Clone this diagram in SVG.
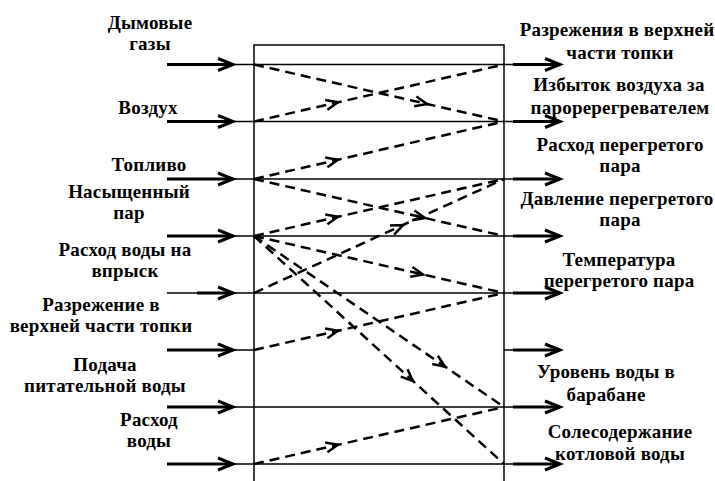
<svg xmlns="http://www.w3.org/2000/svg" width="715" height="481" viewBox="0 0 715 481">
<style>
.t{font-family:"Liberation Serif","Times New Roman",serif;font-weight:bold;font-size:19px;letter-spacing:0.2px;text-anchor:middle;fill:#000}
.thick{stroke:#000;stroke-width:3;fill:none}
.thin{stroke:#000;stroke-width:1.5;fill:none}
.dash{stroke:#000;stroke-width:2.5;fill:none;stroke-dasharray:10 6;marker-mid:url(#mid)}
</style>
<defs>
<marker id="arr" markerUnits="userSpaceOnUse" viewBox="-17 -8 19 16" refX="0" refY="0" markerWidth="19" markerHeight="16" orient="auto" overflow="visible">
<path d="M-15,-6 L0,0 L-15,6" fill="none" stroke="#000" stroke-width="3"/>
</marker>
<marker id="mid" markerUnits="userSpaceOnUse" viewBox="-15 -7 17 14" refX="0" refY="0" markerWidth="17" markerHeight="14" orient="auto" overflow="visible">
<path d="M-12,-5 L0,0 L-12,5" fill="none" stroke="#000" stroke-width="2.5"/>
</marker>
</defs>
<rect width="715" height="481" fill="#fff"/>

<g id="box">
<path class="thin" d="M254,481 V45 H504 V481"/>
<path class="thin" d="M233,64.5 H513 M233,121.5 H513 M233,179 H513 M233,236 H513 M233,293 H513 M233,350 H254 M504,350 H513 M233,407 H513 M233,464 H513"/>
</g>

<g id="in-gases"><path class="thick" d="M167,64.5 H233" marker-end="url(#arr)"/><text class="t" x="150" y="29">Дымовые</text><text class="t" x="150" y="50">газы</text></g>
<g id="in-air"><path class="thick" d="M167,121.5 H233" marker-end="url(#arr)"/><text class="t" x="148" y="114">Воздух</text></g>
<g id="in-fuel"><path class="thick" d="M167,179 H233" marker-end="url(#arr)"/><text class="t" x="149" y="171">Топливо</text></g>
<g id="in-steam"><path class="thick" d="M167,236 H233" marker-end="url(#arr)"/><text class="t" x="129" y="198">Насыщенный</text><text class="t" x="129" y="219">пар</text></g>
<g id="in-spray"><path class="thin" d="M167,293 H197"/><path class="thick" d="M197,293 H233" marker-end="url(#arr)"/><text class="t" x="125" y="256">Расход воды на</text><text class="t" x="125" y="277">впрыск</text></g>
<g id="in-draft"><path class="thick" d="M167,350 H233" marker-end="url(#arr)"/><text class="t" x="101" y="311">Разрежение в</text><text class="t" x="101" y="332">верхней части топки</text></g>
<g id="in-feed"><path class="thick" d="M167,407 H233" marker-end="url(#arr)"/><text class="t" x="105" y="371">Подача</text><text class="t" x="105" y="392">питательной воды</text></g>
<g id="in-water"><path class="thick" d="M167,464 H233" marker-end="url(#arr)"/><text class="t" x="149" y="426">Расход</text><text class="t" x="149" y="447">воды</text></g>

<g id="out-draft"><path class="thick" d="M513,64.5 H560" marker-end="url(#arr)"/><text class="t" x="617" y="36">Разрежения в верхней</text><text class="t" x="620" y="59">части топки</text></g>
<g id="out-excess"><path class="thick" d="M513,121.5 H560" marker-end="url(#arr)"/><text class="t" x="619" y="91">Избыток воздуха за</text><text class="t" x="620" y="114">пароререгревателем</text></g>
<g id="out-flow"><path class="thick" d="M513,179 H560" marker-end="url(#arr)"/><text class="t" x="620" y="151">Расход перегретого</text><text class="t" x="620" y="172">пара</text></g>
<g id="out-pressure"><path class="thick" d="M513,236 H560" marker-end="url(#arr)"/><text class="t" x="617" y="205">Давление перегретого</text><text class="t" x="620" y="226">пара</text></g>
<g id="out-temp"><path class="thick" d="M513,293 H560" marker-end="url(#arr)"/><text class="t" x="619" y="266">Температура</text><text class="t" x="619" y="287">перегретого пара</text></g>
<g id="out-blank"><path class="thick" d="M513,350 H560" marker-end="url(#arr)"/></g>
<g id="out-level"><path class="thick" d="M513,407 H560" marker-end="url(#arr)"/><text class="t" x="606" y="378">Уровень воды в</text><text class="t" x="606" y="401">барабане</text></g>
<g id="out-salt"><path class="thick" d="M513,464 H560" marker-end="url(#arr)"/><text class="t" x="620" y="438">Солесодержание</text><text class="t" x="620" y="460">котловой воды</text></g>

<g id="connectors">
<path class="dash" d="M254,64.5 L427,104 L504,121.5"/>
<path class="dash" d="M254,121.5 L338,102.3 L504,64.5"/>
<path class="dash" d="M254,179 L338,159.7 L504,121.5"/>
<path class="dash" d="M254,179 L425,218 L504,236"/>
<path class="dash" d="M254,236 L338,216.8 L504,179"/>
<path class="dash" d="M254,293 L403,225 L504,179"/>
<path class="dash" d="M254,236 L423,274.5 L504,293"/>
<path class="dash" d="M254,236 L445,366.6 L504,407"/>
<path class="dash" d="M254,236 L413,381 L504,464"/>
<path class="dash" d="M254,350 L338,330.8 L504,293"/>
<path class="dash" d="M254,464 L338,444.8 L504,407"/>
</g>
</svg>
